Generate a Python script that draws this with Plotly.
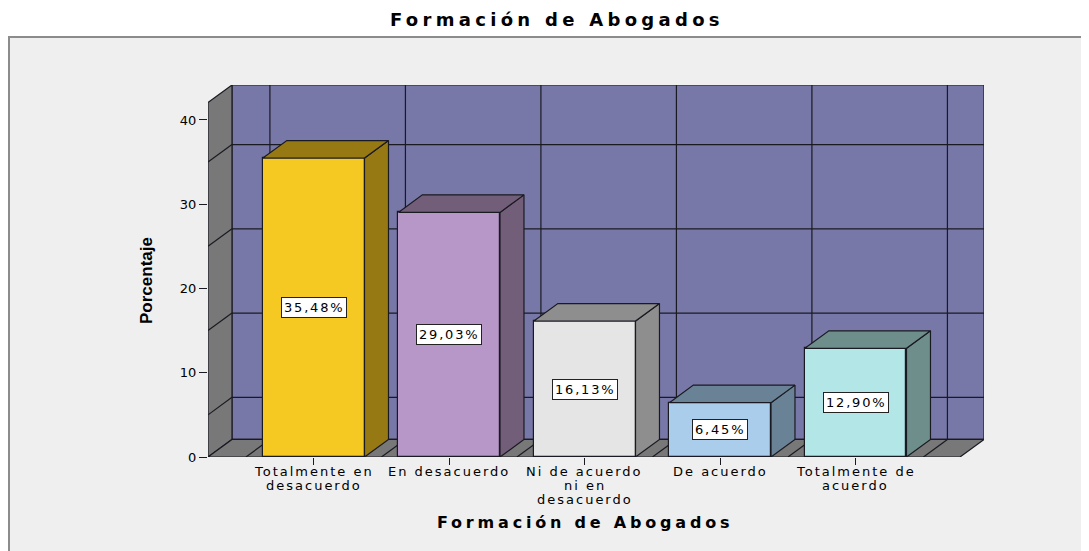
import plotly.graph_objects as go

# ---------------- data ----------------
CATEGORIES = ["Totalmente en<br>desacuerdo", "En desacuerdo",
              "Ni de acuerdo<br>ni en<br>desacuerdo", "De acuerdo",
              "Totalmente de<br>acuerdo"]
VALUES = [35.48, 29.03, 16.13, 6.45, 12.90]
Y_TICKS = [0, 10, 20, 30, 40]
WALL_GRID = [5, 15, 25, 35]
TITLE = "Formación de Abogados"
X_TITLE = "Formación de Abogados"
Y_TITLE = "Porcentaje"

FRONT_COLORS = ["#F6C822", "#B797C7", "#E5E5E5", "#ABCDEC", "#B3E6E6"]
DARK_COLORS = ["#977914", "#735E7A", "#8E8E8E", "#6A8296", "#6E8E8C"]

# ---------------- geometry / style ----------------
W, H = 1089, 551
OFF = 8                       # page body margin
ML, MR, MT, MB = 208, 105, 85, 94   # in window pixels
FW, FH = W - OFF, H - OFF
PW, PH = W - ML - MR, H - MT - MB
X0, X1 = -0.78, 4.77          # floor front edge (category units)
DX = 0.177                    # depth offset in x (category units)
Y_MAX = 42.07                 # wall height
DY = 2.08                     # depth offset in y (value units)
BAR_W = 0.75
WALL = "#7878A8"
SIDE = "#787878"
LINE = "#1A1A22"
BG = "#EFEFEF"


def px(p):
    return (p - ML) / PW


def py(p):
    return (H - MB - p) / PH


def spaced(txt, ls):
    return '<span style="letter-spacing:%spx">%s</span>' % (ls, txt)


fig = go.Figure()

# front faces of the bars
fig.add_trace(go.Bar(
    x=list(range(len(VALUES))), y=VALUES, width=BAR_W,
    marker=dict(color=FRONT_COLORS, line=dict(color=LINE, width=1.2)),
    hoverinfo="skip", showlegend=False))

# side and top faces
for i, (v, dc) in enumerate(zip(VALUES, DARK_COLORS)):
    xl, xr = i - BAR_W / 2, i + BAR_W / 2
    fig.add_trace(go.Scatter(
        x=[xr, xr + DX, xr + DX, xr, xr], y=[0, DY, v + DY, v, 0],
        mode="lines", fill="toself", fillcolor=dc,
        line=dict(color=LINE, width=1.2), hoverinfo="skip", showlegend=False))
    fig.add_trace(go.Scatter(
        x=[xl, xr, xr + DX, xl + DX, xl], y=[v, v, v + DY, v + DY, v],
        mode="lines", fill="toself", fillcolor=dc,
        line=dict(color=LINE, width=1.2), hoverinfo="skip", showlegend=False))

shapes = []
# outer frame
shapes.append(dict(type="rect", xref="paper", yref="paper",
                   x0=px(9), x1=px(1120), y0=py(37), y1=py(600),
                   line=dict(color="#8C8C8C", width=2), fillcolor=BG, layer="below"))

lw = dict(color=LINE, width=1.2)
# back wall
shapes.append(dict(type="rect", xref="x", yref="y", x0=X0 + DX, x1=X1 + DX,
                   y0=DY, y1=Y_MAX + DY, fillcolor=WALL, line=lw, layer="below"))
for g in WALL_GRID:
    shapes.append(dict(type="line", xref="x", yref="y", x0=X0 + DX, x1=X1 + DX,
                       y0=g + DY, y1=g + DY, line=lw, layer="below"))
for k in range(len(VALUES) + 1):
    xb = k - 0.5 + DX
    shapes.append(dict(type="line", xref="x", yref="y", x0=xb, x1=xb,
                       y0=DY, y1=Y_MAX + DY, line=lw, layer="below"))
# left side wall
shapes.append(dict(type="path", xref="x", yref="y",
                   path="M %f,0 L %f,%f L %f,%f L %f,%f Z" % (
                       X0, X0, Y_MAX, X0 + DX, Y_MAX + DY, X0 + DX, DY),
                   fillcolor=SIDE, line=lw, layer="below"))
for g in WALL_GRID:
    shapes.append(dict(type="line", xref="x", yref="y", x0=X0, x1=X0 + DX,
                       y0=g, y1=g + DY, line=lw, layer="below"))
# floor
shapes.append(dict(type="path", xref="x", yref="y",
                   path="M %f,0 L %f,0 L %f,%f L %f,%f Z" % (
                       X0, X1, X1 + DX, DY, X0 + DX, DY),
                   fillcolor=SIDE, line=lw, layer="below"))
for k in range(len(VALUES) + 1):
    xf = k - 0.5
    shapes.append(dict(type="line", xref="x", yref="y", x0=xf, x1=xf + DX,
                       y0=0, y1=DY, line=lw, layer="below"))

annotations = []
for i, v in enumerate(VALUES):
    annotations.append(dict(
        x=i, y=v / 2, xref="x", yref="y", showarrow=False,
        xanchor="center", yanchor="middle",
        text=spaced(("%.2f%%" % v).replace(".", ","), 1.8),
        font=dict(family="DejaVu Sans", size=13, color="black"),
        bgcolor="white", bordercolor="#222", borderwidth=1, borderpad=2))

# category labels, one annotation per line for tight line spacing
for i, c in enumerate(CATEGORIES):
    for j, ln in enumerate(c.split("<br>")):
        annotations.append(dict(
            x=i, y=py(471 + 14.5 * j), xref="x", yref="paper", showarrow=False,
            xanchor="center", yanchor="middle", text=spaced(ln, 2.0),
            font=dict(family="DejaVu Sans", size=13, color="black")))

annotations.append(dict(x=px(557), y=py(20), xref="paper", yref="paper",
                        showarrow=False, xanchor="center", yanchor="middle",
                        text=spaced(TITLE, 4.3),
                        font=dict(family="DejaVu Sans", size=18, color="black", weight="bold")))
annotations.append(dict(x=px(585), y=py(522), xref="paper", yref="paper",
                        showarrow=False, xanchor="center", yanchor="middle",
                        text=spaced(X_TITLE, 3.8),
                        font=dict(family="DejaVu Sans", size=16, color="black", weight="bold")))
annotations.append(dict(x=px(146), y=py(281), xref="paper", yref="paper",
                        showarrow=False, xanchor="center", yanchor="middle",
                        text=Y_TITLE, textangle=-90,
                        font=dict(family="Liberation Sans Narrow, Liberation Sans",
                                  size=17, color="black", weight="bold")))

fig.update_layout(
    width=FW, height=FH,
    margin=dict(l=ML - OFF, r=MR, t=MT - OFF, b=MB, pad=0),
    paper_bgcolor="white", plot_bgcolor=BG,
    shapes=shapes, annotations=annotations, bargap=0,
    xaxis=dict(range=[X0, X1 + DX], tickvals=list(range(len(CATEGORIES))),
               showticklabels=False,
               ticks="outside", ticklen=7, tickcolor=LINE, tickwidth=1.2,
               showgrid=False, zeroline=False, showline=False, fixedrange=True),
    yaxis=dict(range=[0, Y_MAX + DY], tickvals=Y_TICKS,
               ticks="outside", ticklen=8, tickcolor=LINE, tickwidth=1.2,
               showgrid=False, zeroline=False, showline=False, fixedrange=True,
               tickfont=dict(family="DejaVu Sans", size=13, color="black")),
)

fig.write_html("out.html")
